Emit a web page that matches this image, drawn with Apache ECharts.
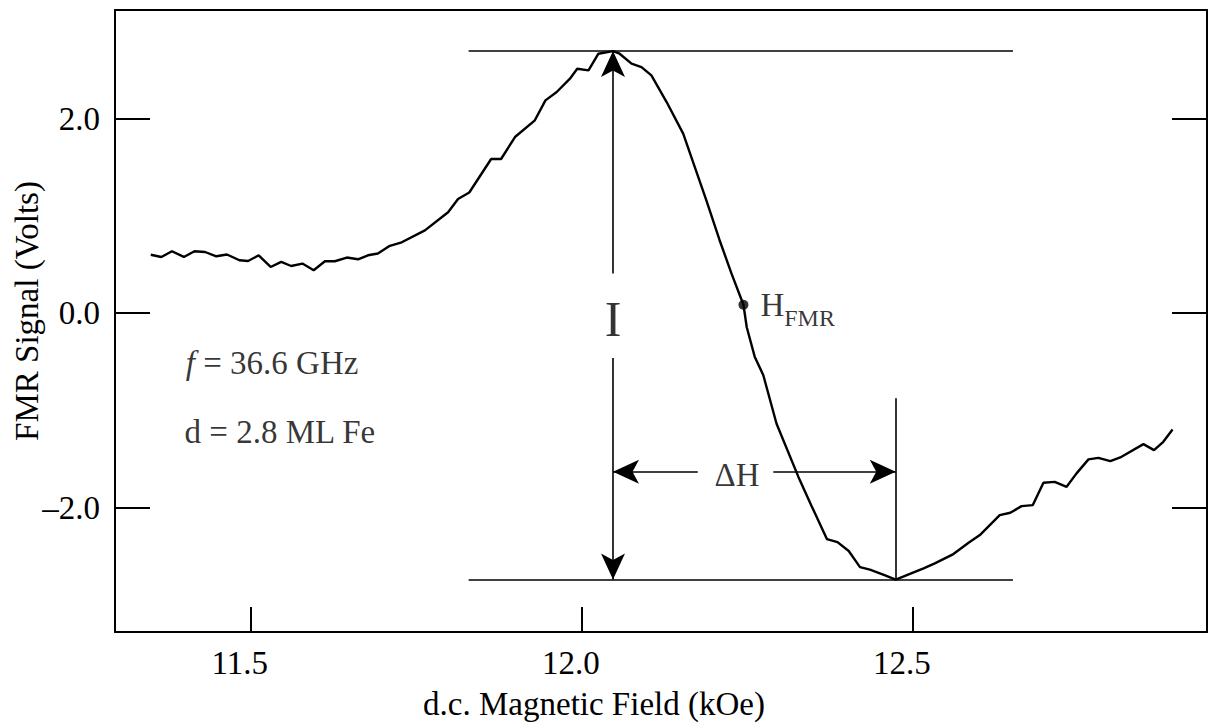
<!DOCTYPE html>
<html>
<head>
<meta charset="utf-8">
<title>FMR signal</title>
<script src="https://cdn.jsdelivr.net/npm/echarts@6/dist/echarts.min.js"></script>
<style>
  html, body { margin: 0; padding: 0; background: #fff; }
  #chart { width: 1209px; height: 728px; }
</style>
</head>
<body>
<div id="chart"></div>
<script>
// FMR derivative signal vs d.c. field
const fieldKOe = [
  11.349, 11.365, 11.381, 11.399, 11.415, 11.431, 11.448, 11.464, 11.483, 11.496,
  11.512, 11.530, 11.546, 11.561, 11.578, 11.595, 11.612, 11.627, 11.645, 11.662,
  11.677, 11.692, 11.710, 11.728, 11.763, 11.798, 11.813, 11.830, 11.863, 11.878,
  11.899, 11.929, 11.945, 11.962, 11.982, 11.993, 12.010, 12.025, 12.047, 12.057,
  12.075, 12.090, 12.105, 12.128, 12.153, 12.188, 12.208, 12.226, 12.244, 12.249,
  12.261, 12.274, 12.294, 12.327, 12.347, 12.370, 12.386, 12.403, 12.420, 12.435,
  12.455, 12.474, 12.516, 12.533, 12.561, 12.584, 12.601, 12.631, 12.647, 12.664,
  12.681, 12.697, 12.714, 12.732, 12.747, 12.765, 12.780, 12.798, 12.813, 12.848,
  12.864, 12.878, 12.892
];
const signalV = [
  0.602, 0.579, 0.638, 0.579, 0.638, 0.630, 0.586, 0.604, 0.545, 0.538,
  0.596, 0.476, 0.528, 0.486, 0.511, 0.442, 0.535, 0.535, 0.573, 0.555,
  0.596, 0.614, 0.694, 0.730, 0.853, 1.039, 1.175, 1.242, 1.587, 1.587,
  1.813, 1.985, 2.190, 2.276, 2.413, 2.516, 2.499, 2.670, 2.697, 2.670,
  2.568, 2.533, 2.447, 2.173, 1.848, 1.162, 0.751, 0.408, 0.087, -0.144,
  -0.447, -0.638, -1.137, -1.684, -1.985, -2.324, -2.355, -2.447, -2.612, -2.638,
  -2.689, -2.740, -2.625, -2.574, -2.478, -2.362, -2.283, -2.077, -2.053, -1.985,
  -1.974, -1.745, -1.735, -1.786, -1.648, -1.504, -1.488, -1.522, -1.484, -1.347,
  -1.409, -1.323, -1.196
];

// axis ticks
const xTicks = [11.5, 12.0, 12.5];
const yTicks = [-2, 0, 2];

// construction lines (I = peak-to-peak, dH = peak-to-peak width)
const peakLevel = 2.697;
const dipLevel = -2.740;
const levelSpan = [11.829, 12.651];
const iArrowX = 12.047;
const iGap = [0.41, -0.46];          // where the "I" label cuts the arrow
const dhArrowY = -1.632;
const dhGap = [12.175, 12.289];      // where the "ΔH" label cuts the arrow
const dhEndX = 12.474;
const dhMarkTop = -0.874;
const hfmrPoint = [12.244, 0.087];

// text notes
const notes = [
  { at: [12.047, -0.057], text: "I", kind: "big" },
  { at: [12.2345, -1.666], text: "ΔH", kind: "mid" },
  { at: [11.402, -0.514], text: "{it|f} = 36.6 GHz", kind: "left" },
  { at: [11.400, -1.224], text: "d = 2.8 ML Fe", kind: "left" },
];

const FONT = "Liberation Serif";
const INK = "#000";

const chart = echarts.init(document.getElementById("chart"), null, { renderer: "svg" });

const arrowEnd = (a, b) => [
  { coord: a, symbol: "none" },
  { coord: b, symbol: "arrow" },
];
const plain = (a, b) => [
  { coord: a, symbol: "none" },
  { coord: b, symbol: "none" },
];

const fmt1 = (v) => (v < 0 ? "–" + Math.abs(v).toFixed(1) : v.toFixed(1));

chart.setOption({
  animation: false,
  textStyle: { fontFamily: FONT, color: INK },
  grid: { left: 115, right: 2, top: 10, bottom: 96, outerBoundsMode: "none", containLabel: false },
  xAxis: [
    {
      type: "value",
      min: 11.295,
      max: 12.944,
      name: "d.c. Magnetic Field (kOe)",
      nameLocation: "middle",
      nameGap: 55,
      nameMoveOverlap: false,
      nameTextStyle: { fontFamily: FONT, fontSize: 33, color: INK, padding: [0, 134, 0, 0] },
      axisLine: { onZero: false, lineStyle: { color: INK, width: 2 } },
      axisTick: { inside: true, length: 25, customValues: xTicks, lineStyle: { color: INK, width: 2 } },
      axisLabel: {
        customValues: xTicks,
        formatter: fmt1,
        fontFamily: FONT, fontSize: 33, color: INK,
        margin: 14,
        padding: [0, 22, 0, 0],
      },
      splitLine: { show: false },
    },
    {
      type: "value",
      position: "top",
      min: 11.295,
      max: 12.944,
      axisLine: { onZero: false, lineStyle: { color: INK, width: 2 } },
      axisTick: { show: false },
      axisLabel: { show: false },
      splitLine: { show: false },
    },
  ],
  yAxis: [
    {
      type: "value",
      min: -3.28,
      max: 3.12,
      name: "FMR Signal (Volts)",
      nameLocation: "middle",
      nameGap: 72,
      nameMoveOverlap: false,
      nameTextStyle: { fontFamily: FONT, fontSize: 33, color: INK, padding: [0, 0, 0, 20] },
      axisLine: { show: true, onZero: false, lineStyle: { color: INK, width: 2 } },
      axisTick: { show: true, inside: true, length: 35, customValues: yTicks, lineStyle: { color: INK, width: 2 } },
      axisLabel: {
        customValues: yTicks,
        formatter: fmt1,
        fontFamily: FONT, fontSize: 33, color: INK,
        margin: 15,
      },
      splitLine: { show: false },
    },
    {
      type: "value",
      position: "right",
      min: -3.28,
      max: 3.12,
      axisLine: { show: true, onZero: false, lineStyle: { color: INK, width: 2 } },
      axisTick: { show: true, inside: true, length: 35, customValues: yTicks, lineStyle: { color: INK, width: 2 } },
      axisLabel: { show: false },
      splitLine: { show: false },
    },
  ],
  series: [
    {
      name: "FMR signal",
      type: "line",
      data: fieldKOe.map((x, i) => [x, signalV[i]]),
      showSymbol: false,
      lineStyle: { color: INK, width: 2.4 },
      silent: true,
      markLine: {
        silent: true,
        symbolSize: [18, 26],
        label: { show: false },
        lineStyle: { color: INK, width: 1.6, type: "solid" },
        data: [
          plain([levelSpan[0], peakLevel], [levelSpan[1], peakLevel]),
          plain([levelSpan[0], dipLevel], [levelSpan[1], dipLevel]),
          arrowEnd([iArrowX, iGap[0]], [iArrowX, peakLevel]),
          arrowEnd([iArrowX, iGap[1]], [iArrowX, dipLevel]),
          arrowEnd([dhGap[0], dhArrowY], [iArrowX, dhArrowY]),
          arrowEnd([dhGap[1], dhArrowY], [dhEndX, dhArrowY]),
          plain([dhEndX, dhMarkTop], [dhEndX, dipLevel]),
        ],
      },
    },
    {
      name: "H_FMR",
      type: "scatter",
      data: [hfmrPoint],
      symbolSize: 10,
      itemStyle: { color: INK },
      silent: true,
      label: {
        show: true,
        position: "right",
        distance: 12,
        formatter: "{h|H}{s|FMR}",
        rich: {
          h: { fontFamily: FONT, fontSize: 33, lineHeight: 50, verticalAlign: "middle", color: INK },
          s: { fontFamily: FONT, fontSize: 24, lineHeight: 24, verticalAlign: "bottom", color: INK },
        },
      },
    },
    {
      name: "notes",
      type: "scatter",
      data: notes.map((n) => ({
        value: n.at,
        label: {
          show: true,
          position: n.kind === "left" ? "right" : "inside",
          distance: 0,
          formatter: n.text,
          fontFamily: FONT,
          color: INK,
          fontSize: n.kind === "big" ? 50 : 33,
        },
      })),
      symbolSize: 0,
      silent: true,
      label: {
        fontFamily: FONT,
        color: INK,
        rich: {
          it: { fontFamily: FONT, fontStyle: "italic", fontSize: 33, color: INK },
        },
      },
    },
  ],
});
</script>
</body>
</html>
